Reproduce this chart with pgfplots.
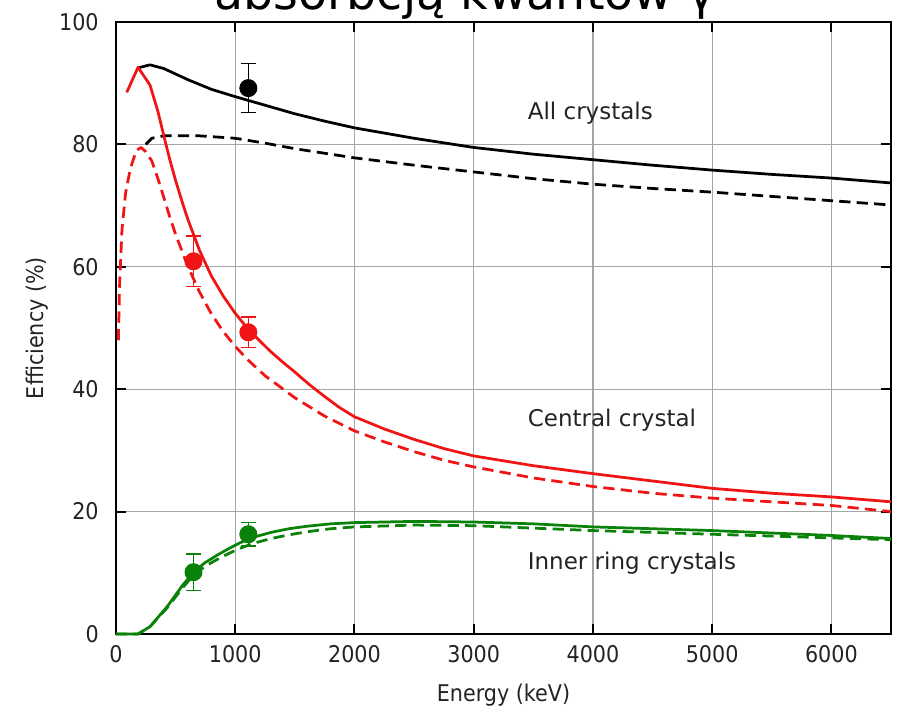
\documentclass[border=0pt]{standalone}
\usepackage{fontspec}
\setmainfont{DejaVu Sans}
\newfontfamily\cond{DejaVu Sans Condensed}
\usepackage{pgfplots}
\pgfplotsset{compat=1.18}

\definecolor{cred}{RGB}{240,20,20}
\definecolor{cgreen}{RGB}{10,130,10}
\definecolor{gridgray}{RGB}{165,165,165}
\definecolor{txt}{RGB}{35,35,35}

\begin{document}
\begin{tikzpicture}
\begin{axis}[
  scale only axis, width=310pt, height=244.8pt,
  xmin=0, xmax=6500, ymin=0, ymax=100,
  xtick={0,1000,...,6000}, ytick={0,20,...,100},
  grid=major, grid style={gridgray, line width=0.5pt},
  axis line style={line width=0.8pt},
  tick style={black, line width=0.8pt}, major tick length=4pt,
  tick align=inside,
  /pgf/number format/assume math mode=true,
  /pgf/number format/1000 sep={},
  ticklabel style={font=\cond\fontsize{9.2}{11}\selectfont, text=txt},
  xticklabel style={yshift=-1.2pt},
  yticklabel style={xshift=-3.4pt},
  xlabel={Energy (keV)}, ylabel={Efficiency (\%)},
  label style={font=\cond\fontsize{9.2}{11}\selectfont, text=txt},
  xlabel style={at={(axis description cs:0.5,0)}, anchor=center, yshift=-24.4pt},
  ylabel style={at={([xshift=-31.6pt]axis description cs:0,0.5)}, anchor=center},
  clip=false,
  every axis plot/.append style={line join=round},
]
% All crystals, solid
\addplot[black, line width=1.1pt] coordinates {
(185,92.5)(285,93.0)(400,92.4)(500,91.5)(600,90.6)(800,89.0)(1000,87.8)(1250,86.4)(1500,85.0)(1750,83.8)(2000,82.7)(2500,81.0)(3000,79.5)(3500,78.4)(4000,77.5)(4500,76.6)(5000,75.8)(5500,75.1)(6000,74.5)(6500,73.7)};
% All crystals, dashed
\addplot[black, line width=1.1pt, dash pattern=on 4.5pt off 2.5pt] coordinates {
(250,80.0)(300,81.0)(400,81.4)(700,81.4)(1000,81.0)(1250,80.2)(1500,79.3)(2000,77.8)(2500,76.6)(3000,75.5)(3500,74.4)(4000,73.5)(4500,72.8)(5000,72.2)(5500,71.5)(6000,70.8)(6500,70.1)};
% Central crystal, solid
\addplot[cred, line width=1.1pt] coordinates {
(90,88.5)(185,92.6)(285,89.7)(350,85.5)(400,81.5)(450,77.6)(500,74.1)(550,70.9)(600,67.9)(700,62.7)(800,58.5)(900,55.2)(1000,52.4)(1100,50.0)(1200,48.0)(1300,46.1)(1400,44.4)(1500,42.8)(1625,40.7)(1750,38.8)(1875,37.0)(2000,35.5)(2250,33.5)(2500,31.8)(2750,30.3)(3000,29.1)(3500,27.5)(4000,26.2)(4500,25.0)(5000,23.8)(5500,23.0)(6000,22.4)(6500,21.6)};
% Central crystal, dashed
\addplot[cred, line width=1.1pt, dash pattern=on 4.5pt off 2.5pt] coordinates {
(20,48)(30,57)(50,66)(80,72)(120,76)(170,79)(210,79.5)(250,78.8)(300,77.3)(350,74.5)(400,71.4)(450,68.2)(500,65.3)(600,60.2)(700,55.9)(800,52.3)(900,49.4)(1000,47.0)(1100,44.9)(1250,42.2)(1500,38.6)(1750,35.6)(2000,33.2)(2250,31.4)(2500,29.8)(2750,28.4)(3000,27.3)(3500,25.5)(4000,24.1)(4500,23.0)(5000,22.2)(5500,21.6)(6000,21.0)(6500,20.0)};
% Inner ring, solid
\addplot[cgreen, line width=1.1pt] coordinates {
(0,0)(185,0)(285,1.2)(430,4.5)(560,8)(660,10.3)(750,11.7)(850,12.9)(950,14.0)(1040,14.9)(1150,15.8)(1300,16.6)(1450,17.2)(1600,17.6)(1800,18.0)(2000,18.2)(2500,18.4)(3000,18.3)(3500,18.0)(4000,17.5)(4500,17.2)(5000,16.9)(5500,16.5)(6000,16.1)(6500,15.6)};
% Inner ring, dashed
\addplot[cgreen, line width=1.1pt, dash pattern=on 4.5pt off 2.5pt] coordinates {
(0,0)(185,0)(285,1.2)(430,4.3)(560,7.6)(660,9.8)(750,11.1)(850,12.2)(950,13.2)(1040,14.0)(1150,14.8)(1300,15.6)(1450,16.2)(1600,16.7)(1800,17.2)(2000,17.5)(2500,17.8)(3000,17.7)(3500,17.3)(4000,16.9)(4500,16.6)(5000,16.3)(5500,16.0)(6000,15.7)(6500,15.4)};
% Measured points
\addplot[black, only marks, mark=*, mark size=3.4pt,
  error bars/.cd, y dir=both, y explicit,
  error bar style={line width=0.6pt}, error mark options={rotate=90, line width=0.6pt, mark size=3pt}]
  coordinates {(1110,89.2) +- (0,4.0)};
\addplot[cred, only marks, mark=*, mark size=3.4pt,
  error bars/.cd, y dir=both, y explicit,
  error bar style={line width=0.6pt}, error mark options={rotate=90, line width=0.6pt, mark size=3pt}]
  coordinates {(650,60.9) +- (0,4.1) (1110,49.3) +- (0,2.5)};
\addplot[cgreen, only marks, mark=*, mark size=3.4pt,
  error bars/.cd, y dir=both, y explicit,
  error bar style={line width=0.6pt}, error mark options={rotate=90, line width=0.6pt, mark size=3pt}]
  coordinates {(650,10.1) +- (0,3.0) (1110,16.3) +- (0,1.9)};

\node[anchor=west, text=txt, font=\fontsize{9.2}{11}\selectfont] at (axis cs:3380,85.1) {All crystals};
\node[anchor=west, text=txt, font=\fontsize{9.2}{11}\selectfont] at (axis cs:3380,35.0) {Central crystal};
\node[anchor=west, text=txt, font=\fontsize{9.2}{11}\selectfont] at (axis cs:3380,11.6) {Inner ring crystals};

\coordinate (SW) at (rel axis cs:0,0);
\coordinate (NE) at (rel axis cs:1,1);
\coordinate (NW) at (rel axis cs:0,1);
\end{axis}
\pgfresetboundingbox
\path[use as bounding box] ([xshift=-46.4pt,yshift=-32.4pt]SW) rectangle ([xshift=4pt,yshift=8.8pt]NE);
\begin{scope}
\clip ([xshift=-46.4pt,yshift=-32.4pt]SW) rectangle ([xshift=4pt,yshift=8.8pt]NE);
\node[anchor=base, inner sep=0pt, font=\fontsize{19}{22}\selectfont] at ([xshift=139.6pt,yshift=5pt]NW) {absorbcją kwantów γ};
\end{scope}
\end{tikzpicture}
\end{document}
